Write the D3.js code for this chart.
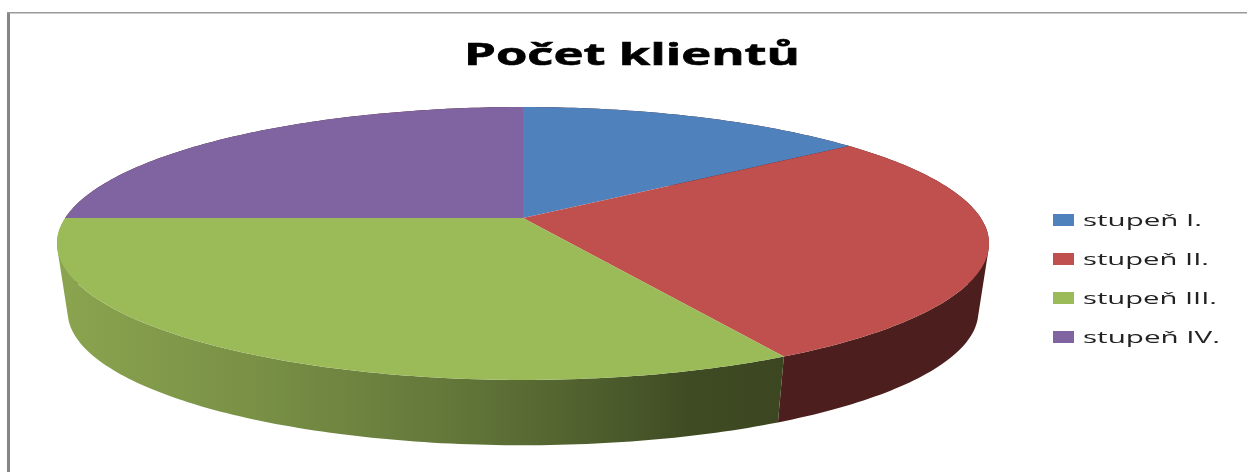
<!DOCTYPE html>
<html>
<head>
<meta charset="utf-8">
<script src="https://cdn.jsdelivr.net/npm/d3@7"></script>
<style>
	html, body { margin: 0; padding: 0; background: #fff; }
	svg { display: block; }
</style>
</head>
<body>
<div id="chart"></div>
<script>
const width = 1247;
const height = 472;

// data
const chart_title = "Počet klientů";
const categories = ["stupeň I.", "stupeň II.", "stupeň III.", "stupeň IV."];
const clients = [14.6, 27.5, 32.9, 25];
const colors = ["#4f81bd", "#c0504d", "#9bbb59", "#8064a2"];

// tilted disc: top face and the smaller bottom face seen in perspective
const cx = 523;
const top_face = { y0: 218, rx: 457.8, ry: 131.7 };
const bottom_face = { y0: 287, rx: 447.3, ry: 128.7 };
const persp = 0.1868;

const project = (face, a) => {
	const u = Math.sin(a);
	const v = Math.cos(a);
	const w = 1 + persp * v;
	return [cx + (face.rx * u) / w, face.y0 - (face.ry * v) / w];
};

const arc_angles = (a0, a1) => {
	const n = Math.max(2, Math.ceil((a1 - a0) * 60));
	return d3.range(n + 1).map((i) => a0 + ((a1 - a0) * i) / n);
};

const line = d3.line();

const svg = d3
	.select("#chart")
	.append("svg")
	.attr("width", width)
	.attr("height", height);

const defs = svg.append("defs");

// the reference is a soft upscaled bitmap, text is slightly blurred
defs
	.append("filter")
	.attr("id", "soft")
	.append("feGaussianBlur")
	.attr("stdDeviation", 0.45);

// shading of the green wall, dark towards the right
const wall_gradient = defs
	.append("linearGradient")
	.attr("id", "green_wall")
	.attr("gradientUnits", "userSpaceOnUse")
	.attr("x1", 60)
	.attr("x2", 785)
	.attr("y1", 0)
	.attr("y2", 0);
[
	[0, "#8aa44f"],
	[0.257, "#7a9146"],
	[0.515, "#657a3b"],
	[0.642, "#596b33"],
	[0.769, "#4b5a2b"],
	[0.869, "#3f4b23"],
	[1, "#3c4721"],
].forEach((s) => {
	wall_gradient.append("stop").attr("offset", s[0]).attr("stop-color", s[1]);
});

// frame left and top
svg.append("rect").attr("x", 7).attr("y", 12).attr("width", 3).attr("height", height - 12).attr("fill", "#868686");
svg.append("rect").attr("x", 7).attr("y", 12).attr("width", width - 7).attr("height", 1.5).attr("fill", "#9a9a9a");

const slices = d3.pie().sort(null)(clients);

// walls as one quad per step so the side silhouette stays tangent
const wall_fill = ["#4c1f1e", "#4c1f1e", "url(#green_wall)", "#4c1f1e"];
[0, 3, 1, 2].forEach((i) => {
	const s = slices[i];
	const angles = arc_angles(s.startAngle, s.endAngle);
	const quads = d3.pairs(angles).map((p) => {
		const quad = [
			project(top_face, p[0]),
			project(top_face, p[1]),
			project(bottom_face, p[1]),
			project(bottom_face, p[0]),
		];
		// same winding for all, else overlaps past the tangent cancel out
		if (d3.polygonArea(quad) < 0) quad.reverse();
		return line(quad) + "Z";
	});
	svg.append("path").attr("d", quads.join("")).attr("fill", wall_fill[i]);
});

// top face
svg
	.selectAll(".slice")
	.data(slices)
	.join("path")
	.attr("class", "slice")
	.attr("d", (d) => {
		const pts = arc_angles(d.startAngle, d.endAngle).map((a) => project(top_face, a));
		return line([[cx, top_face.y0]].concat(pts)) + "Z";
	})
	.attr("fill", (d, i) => colors[i]);

// title
svg
	.append("text")
	.attr("x", 632)
	.attr("y", 65)
	.attr("text-anchor", "middle")
	.attr("font-family", "'Open Sans', sans-serif")
	.attr("font-weight", "bold")
	.attr("font-size", 30)
	.attr("textLength", 336)
	.attr("lengthAdjust", "spacingAndGlyphs")
	.attr("fill", "#000")
	.attr("stroke", "#000")
	.attr("stroke-width", 0.6)
	.attr("filter", "url(#soft)")
	.text(chart_title);

// legend
const legend_y = d3.scalePoint().domain(categories).range([220, 337]);
const legend_width = d3.scaleOrdinal().domain(categories).range([119, 126, 134, 137]);

const legend = svg
	.selectAll(".legend")
	.data(categories)
	.join("g")
	.attr("class", "legend")
	.attr("transform", (d) => `translate(0, ${legend_y(d)})`);

legend
	.append("rect")
	.attr("x", 1053)
	.attr("y", -6)
	.attr("width", 21)
	.attr("height", 12)
	.attr("fill", (d, i) => colors[i]);

legend
	.append("text")
	.attr("x", 1083)
	.attr("y", 6)
	.attr("font-family", "'Open Sans', sans-serif")
	.attr("font-size", 16)
	.attr("textLength", (d) => legend_width(d))
	.attr("lengthAdjust", "spacingAndGlyphs")
	.attr("fill", "#222")
	.attr("filter", "url(#soft)")
	.text((d) => d);
</script>
</body>
</html>
